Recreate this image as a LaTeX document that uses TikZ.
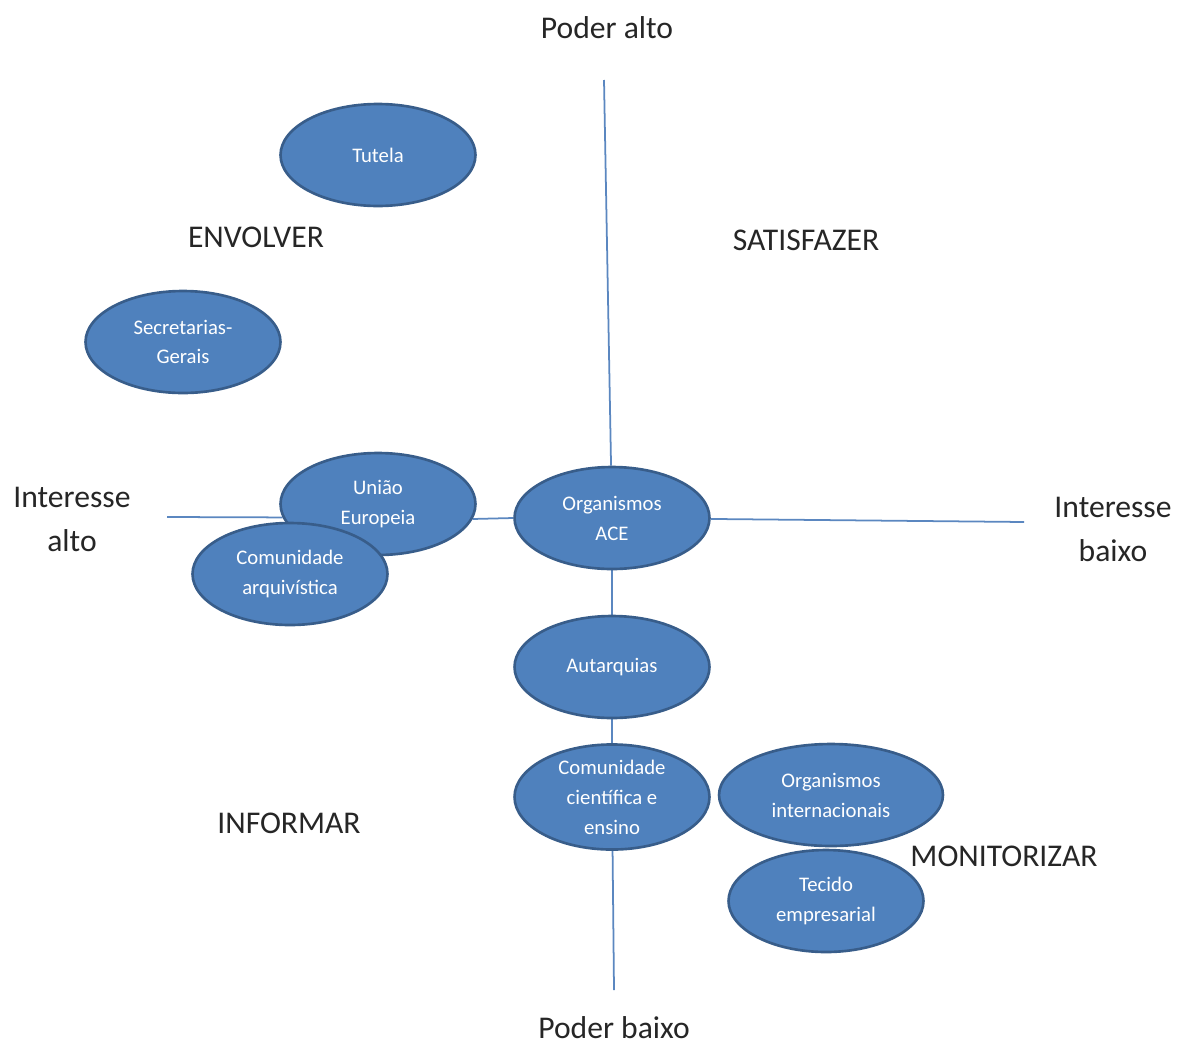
\documentclass[tikz,border=0pt]{standalone}
\usepackage{fontspec}
\setmainfont{Carlito}
\usetikzlibrary{shapes.geometric, backgrounds}
\definecolor{elfill}{HTML}{4F81BD}
\definecolor{eldraw}{HTML}{385D8A}
\definecolor{axisblue}{HTML}{5B87C0}

\begin{document}
\begin{tikzpicture}[x=0.02cm, y=-0.02cm,
    actor/.style={ellipse, draw=eldraw, line width=1.5pt, fill=elfill, text=white,
      minimum width=3.9cm, minimum height=2.04cm, inner sep=0pt, align=center,
      font=\fontsize{11.8}{17}\selectfont},
    zone/.style={font=\fontsize{18}{25}\selectfont, text=black!85, align=center},
    axis/.style={draw=axisblue, line width=1pt}]
  \useasboundingbox (0,0) rectangle (1182,1048);

  % axis labels
  \node[zone] (poderalto) at (607,28) {Poder alto};
  \node[zone] (poderbaixo) at (614,1028) {Poder baixo};
  \node[zone] (intalto) at (72,519) {Interesse\\alto};
  \node[zone] (intbaixo) at (1113,529) {Interesse\\baixo};

  % quadrant labels
  \node[zone] (envolver) at (256,237) {ENVOLVER};
  \node[zone] (satisfazer) at (806,240) {SATISFAZER};
  \node[zone] (informar) at (289,823) {INFORMAR};

  % stakeholders
  \node[actor] (tutela) at (378,155) {Tutela};
  \node[actor] (secger) at (183,342) {Secretarias-\\Gerais};
  \node[actor] (ue) at (378,504) {União\\Europeia};
  \node[actor] (comarq) at (290,574) {Comunidade\\arquivística};
  \node[actor] (ace) at (612,518) {Organismos\\ACE};
  \node[actor] (autarq) at (612,667) {Autarquias};
  \node[actor] (comcient) at (612,797) {Comunidade\\científica e\\ensino};
  \node[actor, minimum width=4.48cm] (orgint) at (831,795) {Organismos\\internacionais};
  \node[actor] (tecido) at (826,901) {Tecido\\empresarial};

  \node[zone] (monitorizar) at (1004,856) {MONITORIZAR};

  % axes
  \coordinate (vtop) at (604,80);
  \coordinate (vbot) at (614,990);
  \coordinate (hleft) at (167,517);
  \coordinate (hright) at (1024,522);
  \begin{scope}[on background layer]
    \draw[axis] (vtop) -- (ace);
    \draw[axis] (ace) -- (autarq);
    \draw[axis] (autarq) -- (comcient);
    \draw[axis] (comcient) -- (vbot);
    \draw[axis] (hleft) -- (ue.188);
    \draw[axis] (ue.-9) -- (ace.west);
    \draw[axis] (ace) -- (hright);
  \end{scope}
\end{tikzpicture}
\end{document}
